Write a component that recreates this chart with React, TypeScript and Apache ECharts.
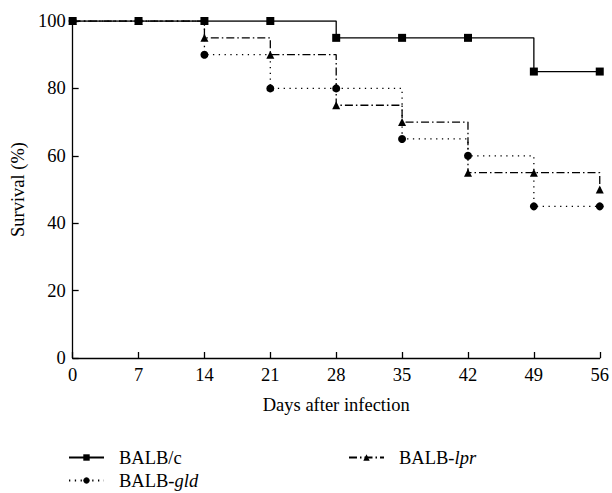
import React, { useEffect, useRef } from "react";
import * as echarts from "echarts";

const days = [0, 7, 14, 21, 28, 35, 42, 49, 56];
const balbC = [100, 100, 100, 100, 95, 95, 95, 85, 85];
const balbLpr = [100, 100, 95, 90, 75, 70, 55, 55, 50];
const balbGld = [100, 100, 90, 80, 80, 65, 60, 45, 45];
const xTicks = { min: 0, max: 56, interval: 7 };
const yTicks = { min: 0, max: 100, interval: 20 };

const FONT = "Liberation Serif";
const FS = 18.5;

function pairs(vals: number[]) {
  return days.map((d, i) => [d, vals[i]]);
}

export default function App() {
  const ref = useRef<HTMLDivElement>(null);
  useEffect(() => {
    if (!ref.current) return;
    const chart = echarts.init(ref.current, undefined, { renderer: "svg" });
    const axisCommon = {
      type: "value" as const,
      nameLocation: "middle" as const,
      nameTextStyle: { fontFamily: FONT, fontSize: FS, color: "#000" },
      axisLine: { show: true, lineStyle: { color: "#000", width: 1.3 } },
      axisTick: { show: true, inside: true, length: 6, lineStyle: { color: "#000", width: 1.3 } },
      axisLabel: { fontFamily: FONT, fontSize: FS, color: "#000", margin: 7 },
      splitLine: { show: false },
    };
    const rich = {
      n: { fontFamily: FONT, fontSize: FS, color: "#000", padding: [0, 0, 0, 10] },
      i: { fontFamily: FONT, fontSize: FS, color: "#000", fontStyle: "italic" as const },
    };
    const fmt = (name: string) => {
      if (name === "BALB/c") return "{n|BALB/c}";
      const parts = name.split("-");
      return `{n|${parts[0]}-}{i|${parts[1]}}`;
    };
    const legendCommon = {
      orient: "horizontal" as const,
      itemWidth: 35,
      itemHeight: 8,
      padding: 0,
      textStyle: { fontFamily: FONT, fontSize: FS, color: "#000", rich },
      formatter: fmt,
      selectedMode: false,
    };
    chart.setOption({
      animation: false,
      backgroundColor: "#fff",
      grid: { left: 71, right: 12, top: 21, bottom: 135 },
      xAxis: {
        ...axisCommon,
        ...xTicks,
        name: "Days after infection",
        nameGap: 37,
      },
      yAxis: {
        ...axisCommon,
        ...yTicks,
        name: "Survival (%)",
        nameGap: 41,
      },
      legend: [
        { ...legendCommon, left: 68, top: 448, data: ["BALB/c"] },
        { ...legendCommon, left: 68, top: 471, data: ["BALB-gld"] },
        { ...legendCommon, left: 348, top: 448, data: ["BALB-lpr"] },
      ],
      series: [
        {
          name: "BALB/c",
          type: "line",
          step: "end",
          data: pairs(balbC),
          symbol: "rect",
          symbolSize: 8,
          itemStyle: { color: "#000" },
          lineStyle: { color: "#000", width: 1.3, type: "solid" },
          z: 3,
        },
        {
          name: "BALB-lpr",
          type: "line",
          step: "end",
          data: pairs(balbLpr),
          symbol: "triangle",
          symbolSize: 8,
          itemStyle: { color: "#000" },
          lineStyle: { color: "#000", width: 1.3, type: [8, 3, 1.5, 3] },
          z: 2,
        },
        {
          name: "BALB-gld",
          type: "line",
          step: "end",
          data: pairs(balbGld),
          symbol: "circle",
          symbolSize: 8,
          itemStyle: { color: "#000" },
          lineStyle: { color: "#000", width: 1.3, type: [1.3, 4.5] },
          z: 2,
        },
      ],
    });
    return () => chart.dispose();
  }, []);
  return <div ref={ref} style={{ position: "fixed", left: 0, top: 0, width: 612, height: 493 }} />;
}
